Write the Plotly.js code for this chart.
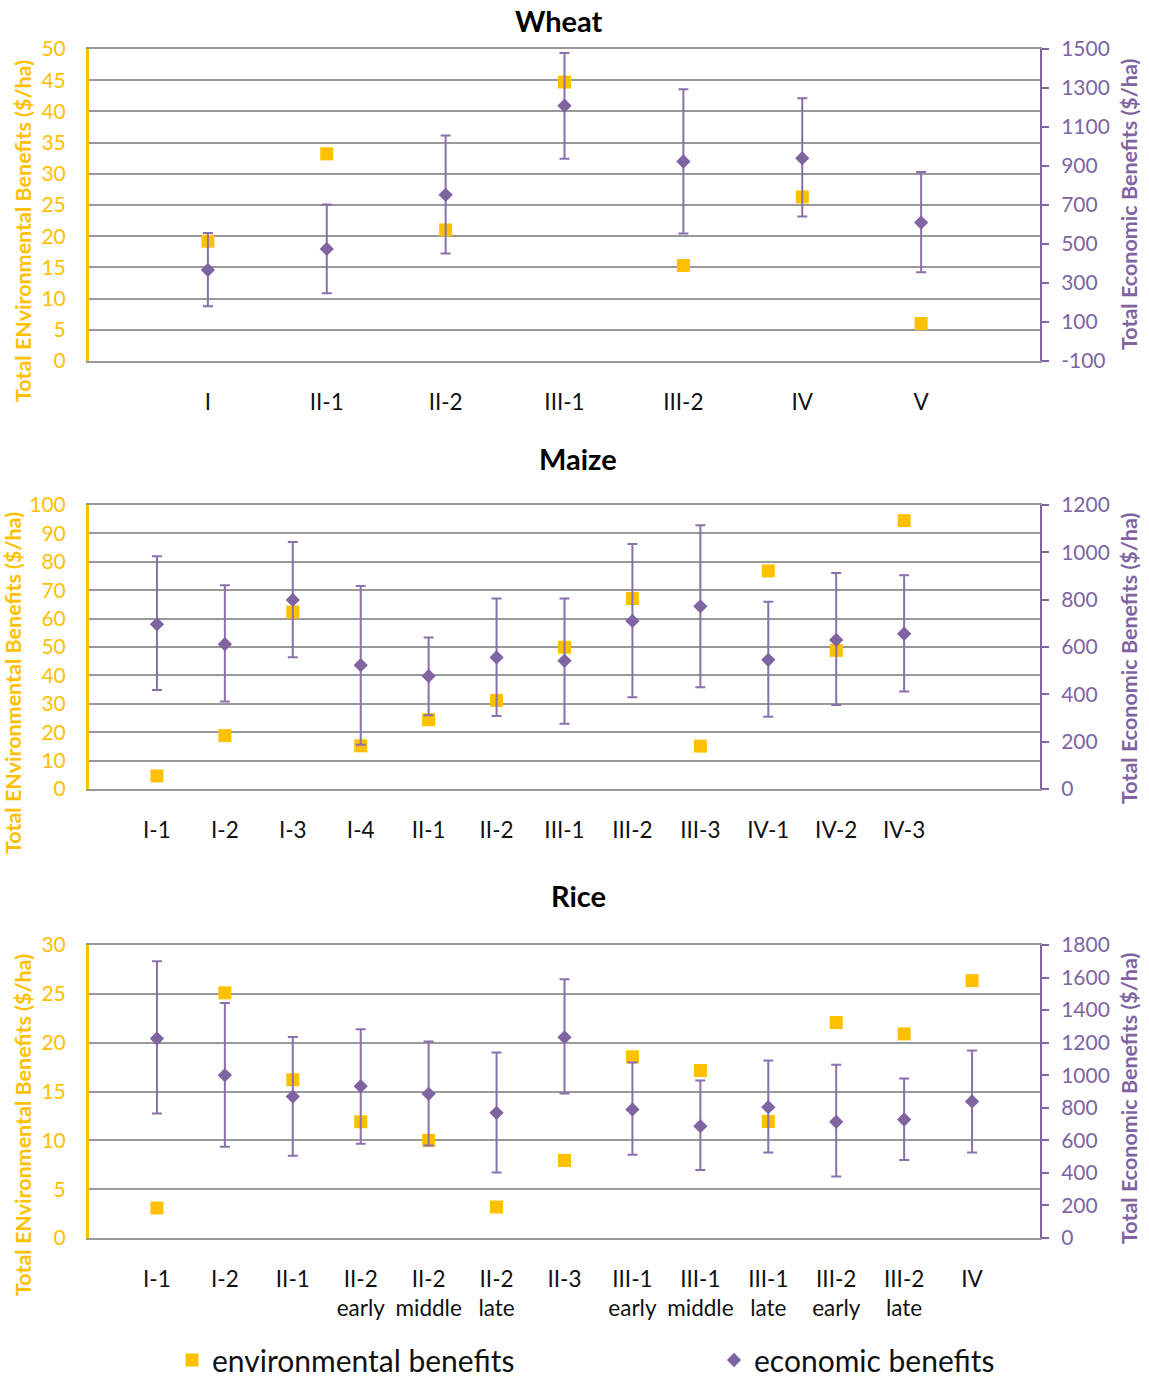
<!DOCTYPE html>
<html>
<head>
<meta charset="utf-8">
<script src="https://cdn.plot.ly/plotly-3.0.1.min.js"></script>
<style>html,body{margin:0;padding:0;background:#fff;}#chart{width:1149px;height:1387px;}</style>
</head>
<body>
<div id="chart"></div>
<script>
// ---------- data ----------
const wheatCats = ['I', 'II-1', 'II-2', 'III-1', 'III-2', 'IV', 'V'];
const wheatEnv = [19.2, 33.2, 21.0, 44.7, 15.3, 26.3, 6.0];
const wheatEco = [367, 475, 752, 1209, 923, 940, 610];
const wheatEcoHigh = [556, 703, 1057, 1479, 1293, 1247, 869];
const wheatEcoLow = [181, 248, 451, 937, 554, 641, 355];

const maizeCats = ['I-1', 'I-2', 'I-3', 'I-4', 'II-1', 'II-2', 'III-1', 'III-2', 'III-3', 'IV-1', 'IV-2', 'IV-3'];
const maizeEnv = [4.6, 18.8, 62.3, 15.2, 24.4, 31.2, 49.9, 67.1, 15.1, 76.8, 48.8, 94.5];
const maizeEco = [696, 612, 799, 523, 477, 556, 542, 710, 772, 546, 630, 656];
const maizeEcoHigh = [983, 861, 1044, 858, 640, 805, 805, 1035, 1114, 791, 913, 903];
const maizeEcoLow = [418, 370, 557, 187, 312, 308, 276, 388, 430, 305, 355, 412];

const riceCats = ['I-1', 'I-2', 'II-1', 'II-2<br>early', 'II-2<br>middle', 'II-2<br>late', 'II-3',
  'III-1<br>early', 'III-1<br>middle', 'III-1<br>late', 'III-2<br>early', 'III-2<br>late', 'IV'];
const riceEnv = [3.07, 25.1, 16.2, 11.9, 10.0, 3.17, 7.94, 18.55, 17.15, 11.93, 22.06, 20.9, 26.35];
const riceEco = [1225, 1000, 869, 933, 886, 769, 1233, 790, 687, 804, 714, 728, 839];
const riceEcoHigh = [1700, 1444, 1235, 1283, 1207, 1139, 1589, 1078, 968, 1090, 1064, 980, 1152];
const riceEcoLow = [765, 560, 505, 579, 569, 403, 888, 511, 417, 526, 378, 479, 526];

const panelTitles = ['Wheat', 'Maize', 'Rice'];
const envName = 'environmental benefits';
const ecoName = 'economic benefits';
const leftTitle = 'Total ENvironmental Benefits ($/ha)';
const rightTitle = 'Total Economic Benefits ($/ha)';

// ---------- style ----------
const GOLD = '#FFC000';
const PURPLE = '#8064A2';
const ERRC = '#8a70ac';
const GRID = '#999999';
const FONT = 'Lato, "Open Sans", sans-serif';
const W = 1149, H = 1387;

const panels = [
  {cats: wheatCats, env: wheatEnv, eco: wheatEco, hi: wheatEcoHigh, lo: wheatEcoLow,
   yl: [0, 50], dl: 5, yr: [-100, 1500], dr: 200, top: 49, bot: 361, xr: [-1, 7],
   titleX: 559, titleY: 20, lX: 23, lT: 231, rT: 205},
  {cats: maizeCats, env: maizeEnv, eco: maizeEco, hi: maizeEcoHigh, lo: maizeEcoLow,
   yl: [0, 100], dl: 10, yr: [0, 1200], dr: 200, top: 505, bot: 789, xr: [-1, 13],
   titleX: 578, titleY: 458, lX: 13, lT: 683, rT: 659},
  {cats: riceCats, env: riceEnv, eco: riceEco, hi: riceEcoHigh, lo: riceEcoLow,
   yl: [0, 30], dl: 5, yr: [0, 1800], dr: 200, top: 945, bot: 1238, xr: [-1, 13],
   titleX: 578, titleY: 895, lX: 23, lT: 1125, rT: 1099}
];

function ticksFor(range, step) {
  const v = [];
  for (let t = range[0]; t <= range[1] + 1e-9; t += step) v.push(t);
  return v;
}

const data = [];
const legendCommon = {orientation: 'h', xanchor: 'left', yanchor: 'bottom', y: 1 / H,
  font: {size: 30, family: FONT, color: '#111'}, bgcolor: 'rgba(0,0,0,0)', borderwidth: 0};
const layout = {
  width: W, height: H,
  margin: {l: 0, r: 0, t: 0, b: 0, autoexpand: false},
  paper_bgcolor: '#fff', plot_bgcolor: '#fff',
  font: {family: FONT, color: '#000'},
  showlegend: true,
  legend: Object.assign({x: 172 / W}, legendCommon),
  legend2: Object.assign({x: 714 / W}, legendCommon),
  annotations: []
};

const xDom = [89 / W, 1040 / W];

panels.forEach((p, i) => {
  const xa = i === 0 ? 'x' : 'x' + (i + 1);
  const yl = 'y' + (i === 0 ? '' : (2 * i + 1));
  const yr = 'y' + (2 * i + 2);
  const xKey = 'xaxis' + (i === 0 ? '' : (i + 1));
  const ylKey = 'yaxis' + (i === 0 ? '' : (2 * i + 1));
  const yrKey = 'yaxis' + (2 * i + 2);
  const dom = [1 - p.bot / H, 1 - p.top / H];
  const rTicks = ticksFor(p.yr, p.dr);

  data.push({
    type: 'scatter', mode: 'markers', name: envName, legend: 'legend', showlegend: i === 0,
    x: p.cats, y: p.env, xaxis: xa, yaxis: yl,
    marker: {symbol: 'square', size: 13, color: GOLD}
  });
  data.push({
    type: 'scatter', mode: 'markers', name: ecoName, legend: 'legend2', showlegend: i === 0,
    x: p.cats, y: p.eco, xaxis: xa, yaxis: yr,
    marker: {symbol: 'diamond', size: 11, color: PURPLE},
    error_y: {type: 'data', symmetric: false,
              array: p.hi.map((v, k) => v - p.eco[k]),
              arrayminus: p.eco.map((v, k) => v - p.lo[k]),
              color: ERRC, thickness: 2, width: 5}
  });

  layout[xKey] = {
    domain: xDom, anchor: yl, type: 'category', range: p.xr,
    showgrid: false, zeroline: false, showline: true, mirror: true, linecolor: GRID, linewidth: 2,
    ticks: '', ticklabelstandoff: 20,
    tickfont: {size: 22.5, family: FONT, color: '#111'}, fixedrange: true
  };
  layout[ylKey] = {
    domain: dom, anchor: xa, range: p.yl, dtick: p.dl, tick0: p.yl[0],
    showgrid: true, gridcolor: GRID, gridwidth: 2, zeroline: false,
    showline: true, linecolor: GOLD, linewidth: 3, ticks: '', ticklabelstandoff: 16,
    tickfont: {size: 21, family: FONT, color: GOLD}, fixedrange: true
  };
  layout[yrKey] = {
    domain: dom, anchor: xa, overlaying: yl, side: 'right', range: p.yr,
    tickmode: 'array', tickvals: rTicks, ticktext: rTicks.map(String),
    showgrid: false, zeroline: false, showline: true, linecolor: PURPLE, linewidth: 2,
    ticks: 'outside', ticklen: 7, tickwidth: 2, tickcolor: PURPLE, ticklabelstandoff: 8,
    tickfont: {size: 21, family: FONT, color: PURPLE}, fixedrange: true
  };

  layout.annotations.push({
    xref: 'paper', yref: 'paper', x: p.titleX / W, y: 1 - p.titleY / H, xanchor: 'center', yanchor: 'middle',
    text: '<b>' + panelTitles[i] + '</b>', showarrow: false, font: {size: 29, family: FONT, color: '#000'}
  });
  layout.annotations.push({
    xref: 'paper', yref: 'paper', x: p.lX / W, y: 1 - p.lT / H, xanchor: 'center', yanchor: 'middle',
    text: '<b>' + leftTitle + '</b>', textangle: -90, showarrow: false,
    font: {size: 21.5, family: FONT, color: GOLD}
  });
  layout.annotations.push({
    xref: 'paper', yref: 'paper', x: 1129 / W, y: 1 - p.rT / H, xanchor: 'center', yanchor: 'middle',
    text: '<b>' + rightTitle + '</b>', textangle: -90, showarrow: false,
    font: {size: 21.5, family: FONT, color: PURPLE}
  });
});

Plotly.newPlot('chart', data, layout, {displayModeBar: false, staticPlot: true});
</script>
</body>
</html>
